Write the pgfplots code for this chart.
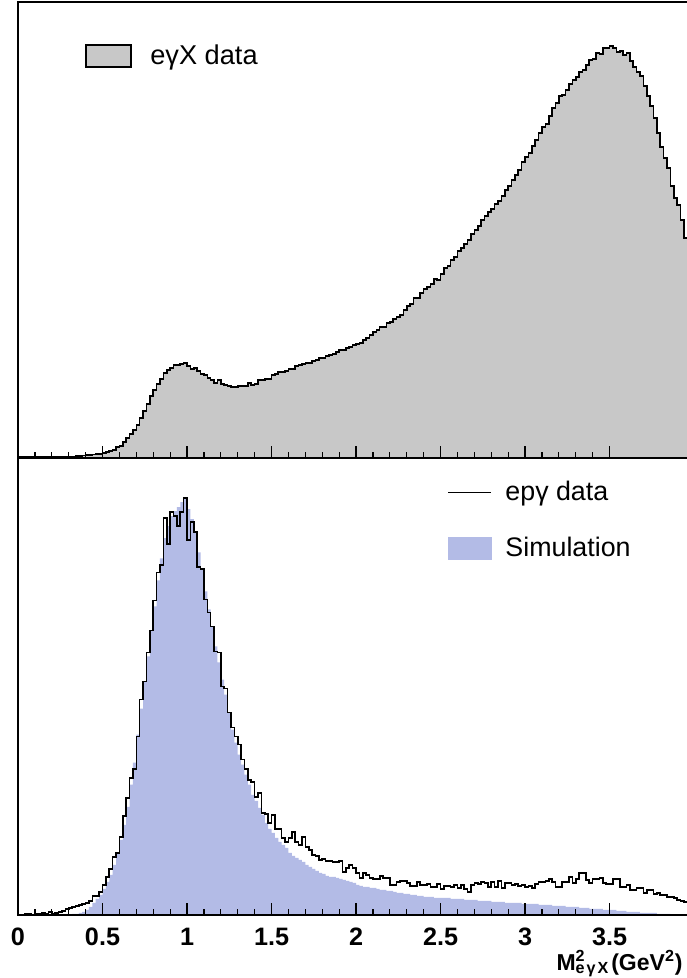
\documentclass[border=0pt]{standalone}
\usepackage{pgfplots}
\pgfplotsset{compat=1.18}
\usepackage{pgfplotstable}
\usepackage{fontspec}
\setmainfont{Liberation Sans}
\definecolor{histgray}{RGB}{200,200,200}
\definecolor{simblue}{RGB}{179,187,230}

\pgfplotstableread{
x top data sim
0.00 0 0 0
0.02 0 0 0
0.04 0 1 0
0.06 0 1 0
0.08 0 0 0
0.10 0 1 0
0.12 0 1 0
0.14 0 2 0
0.16 0 1 0
0.18 0 3 0
0.20 0.5 1 0
0.22 0.5 2 0
0.24 1 3 0
0.26 1 4 0
0.28 1 6 0
0.30 1.5 7 0
0.32 1.5 8 1
0.34 2 9 1
0.36 2 10 2
0.38 2.5 11 3
0.40 3 12 5
0.42 3 14 8
0.44 3.5 19 12
0.46 4 19 16
0.48 4 23 20
0.50 5 30 26
0.52 6 38 33
0.54 7 46 40
0.56 8 58 50
0.58 11 62 62
0.60 12 78 75
0.62 16 99 90
0.64 20 117 108
0.66 24 137 130
0.68 28 146 152
0.70 33 178 180
0.72 40 215 206
0.74 47 233 233
0.76 54 262 258
0.78 62 284 284
0.80 68 314 308
0.82 74 342 334
0.84 79 349 356
0.86 85 396 376
0.88 88 370 388
0.90 90 402 398
0.92 93 398 403
0.94 93 388 407
0.96 94 402 412
0.98 95 416 415
1.00 92 374 405
1.02 89 392 395
1.04 90 382 382
1.06 87 347 362
1.08 84 345 345
1.10 83 315 323
1.12 80 302 305
1.14 78 288 288
1.16 75 263 268
1.18 78 262 252
1.20 74 228 235
1.22 73 226 220
1.24 72 202 202
1.26 71 187 185
1.28 71 178 172
1.30 72 170 160
1.32 72 155 150
1.34 72 146 140
1.36 75 135 130
1.38 73 133 120
1.40 74 118 114
1.42 78 122 107
1.44 78 102 100
1.46 79 101 92
1.48 79 92 86
1.50 83 100 82
1.52 84 86 77
1.54 86 86 73
1.56 86 77 70
1.58 87 73 67
1.60 89 77 62
1.62 89 83 59
1.64 92 73 57
1.66 93 70 55
1.68 94 78 53
1.70 95 68 50
1.72 95 65 48
1.74 97 60 46
1.76 98 59 44
1.78 100 55 42
1.80 100 56 41
1.82 102 54 39
1.84 103 54 38
1.86 104 53 38
1.88 106 53 37
1.90 108 54 36
1.92 108 43 35
1.94 110 47 34
1.96 111 50 33
1.98 113 47 32
2.00 114 42 30
2.02 115 37 29
2.04 118 42 28
2.06 120 40 28
2.08 123 37 27
2.10 126 36 27
2.12 128 36 26
2.14 131 39 25
2.16 131 37 25
2.18 135 37 24
2.20 136 30 24
2.22 139 30 23
2.24 141 33 22
2.26 143 34 22
2.28 148 34 21
2.30 152 32 21
2.32 154 29 20
2.34 160 29 20
2.36 160 33 19
2.38 165 30 19
2.40 169 30 18
2.42 171 31 18
2.44 174 28 18
2.46 179 28 17
2.48 178 31 17
2.50 184 26 17
2.52 190 29 17
2.54 192 29 17
2.56 198 28 16
2.58 201 30 16
2.60 207 27 16
2.62 210 30 16
2.64 214 26 15
2.66 218 23 15
2.68 224 30 15
2.70 228 32 15
2.72 232 31 14
2.74 238 33 14
2.76 242 32 14
2.78 246 28 14
2.80 249 33 13
2.82 254 28 13
2.84 257 34 13
2.86 262 27 13
2.88 268 32 12
2.90 272 32 12
2.92 278 30 12
2.94 283 31 12
2.96 288 29 12
2.98 296 30 11
3.00 301 28 11
3.02 305 29 11
3.04 312 27 11
3.06 318 31 11
3.08 325 33 10
3.10 331 33 10
3.12 334 34 10
3.14 342 36 10
3.16 350 33 9
3.18 355 28 9
3.20 362 28 9
3.22 363 33 9
3.24 368 33 8
3.26 374 38 8
3.28 378 32 8
3.30 381 36 8
3.32 386 42 7
3.34 388 42 7
3.36 393 35 7
3.38 398 32 6
3.40 399 36 6
3.42 405 36 6
3.44 404 37 6
3.46 410 32 5
3.48 410 31 5
3.50 412 31 5
3.52 410 36 5
3.54 406 36 4
3.56 407 28 4
3.58 403 28 4
3.60 405 30 3
3.62 397 25 3
3.64 391 25 3
3.66 386 27 3
3.68 382 27 2
3.70 372 22 2
3.72 362 25 2
3.74 352 25 2
3.76 340 21 2
3.78 325 22 1
3.80 311 20 1
3.82 300 20 1
3.84 290 18 1
3.86 272 18 0
3.88 260 17 0
3.90 253 15 0
3.92 238 14 0
3.94 220 13 0
3.96 213 12 0
3.98 213 12 0
}\hist

\pgfplotsset{
  panel/.style={
    scale only axis, width=336pt,
    xmin=0, xmax=3.976, ymin=0,
    axis on top,
    axis line style={line width=0.9pt, black},
    xtick={0,0.5,1,1.5,2,2.5,3,3.5},
    minor x tick num=4,
    xtick pos=bottom,
    ytick=\empty,
    major tick length=6pt, minor tick length=3pt,
    every tick/.style={line width=0.6pt, black},
    legend cell align=left,
  }
}

\begin{document}
\begin{tikzpicture}
\useasboundingbox (-9pt,-31.5pt) rectangle (334pt,457.5pt);
% bottom panel
\begin{axis}[panel,
  at={(0pt,0pt)}, anchor=south west,
  height=228.5pt, ymax=457,
  xticklabel style={font=\fontsize{12.6}{15}\selectfont\bfseries, yshift=-3pt},
  /pgf/number format/assume math mode=true,
  xlabel={M\rlap{\textsuperscript{2}}\textsubscript{e\kern1pt γ\kern1pt X}\kern1pt(GeV\textsuperscript{2})},
  xlabel style={at={(rel axis cs:1,0)}, anchor=north east, yshift=-17.5pt, xshift=-3.5pt,
    inner sep=0pt, font=\fontsize{11.5}{14}\selectfont\bfseries},
  legend style={at={(axis cs:2.538,437)}, anchor=north west, draw=none, fill=none,
    inner sep=0pt, row sep=12.5pt, font=\fontsize{13.4}{16}\selectfont},
]
\addplot[const plot, fill=simblue, draw=none, forget plot] table[x=x, y=sim] {\hist} \closedcycle;
\addplot[const plot, draw=black, line width=0.8pt, forget plot] table[x=x, y=data] {\hist};
\addlegendimage{legend image code/.code={\draw[black, line width=0.7pt] (0pt,0pt) -- (21.5pt,0pt); \path (26.5pt,0pt);}}
\addlegendentry{epγ data}
\addlegendimage{legend image code/.code={\fill[simblue] (0pt,-5.5pt) rectangle (21.5pt,5.5pt); \path (26.5pt,0pt);}}
\addlegendentry{Simulation}
\end{axis}
% top panel
\begin{axis}[panel,
  at={(0pt,228.5pt)}, anchor=south west,
  height=228pt, ymax=456,
  xticklabels={},
  legend style={at={(axis cs:0.396,402)}, anchor=west, draw=none, fill=none,
    inner sep=0pt, font=\fontsize{13.6}{16}\selectfont},
]
\addplot[const plot, fill=histgray, draw=black, line width=0.8pt, forget plot] table[x=x, y=top] {\hist} \closedcycle;
\addlegendimage{legend image code/.code={\draw[fill=histgray, draw=black, line width=0.6pt] (0pt,-5.5pt) rectangle (22.5pt,5.5pt); \path (30pt,0pt);}}
\addlegendentry{eγX data}
\end{axis}
\end{tikzpicture}
\end{document}
